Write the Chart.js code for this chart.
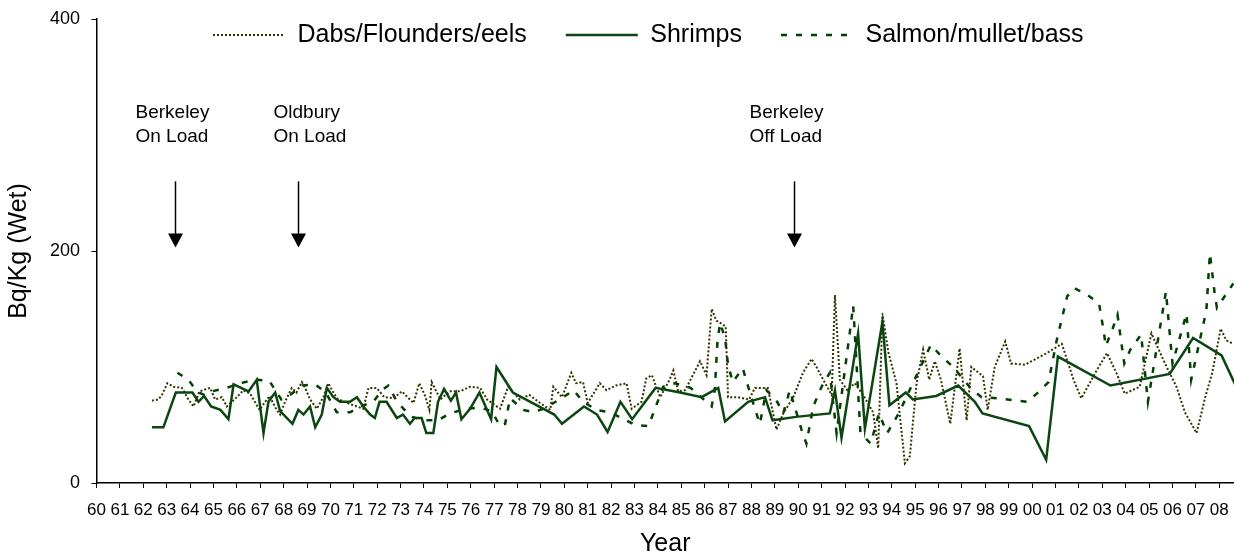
<!DOCTYPE html>
<html>
<head>
<meta charset="utf-8">
<script src="https://cdn.jsdelivr.net/npm/chart.js@4.4.1/dist/chart.umd.min.js"></script>
<style>
html,body{margin:0;padding:0;background:#fff;}
#wrap{width:1234px;height:555px;position:relative;}
</style>
</head>
<body>
<div id="wrap"><canvas id="c"></canvas></div>
<script>
// ---------- data ----------
const tickLabels = ['60','61','62','63','64','65','66','67','68','69','70','71','72','73','74','75','76','77','78','79','80','81','82','83','84','85','86','87','88','89','90','91','92','93','94','95','96','97','98','99','00','01','02','03','04','05','06','07','08'];
const firstYear = 1960;
const yTicks = [0, 200, 400];

const dabsYears = [1962.37,1962.65,1962.80,1963.03,1963.30,1963.65,1963.93,1964.15,1964.40,1964.86,1965.07,1965.36,1965.57,1966.00,1966.28,1966.57,1966.97,1967.14,1967.40,1967.70,1967.85,1968.06,1968.35,1968.55,1968.78,1968.92,1969.13,1969.42,1969.70,1969.91,1970.27,1970.70,1971.13,1971.40,1971.63,1971.98,1972.30,1972.70,1973.05,1973.55,1973.80,1974.05,1974.23,1974.33,1974.70,1975.10,1975.54,1975.97,1976.40,1976.70,1977.25,1977.60,1978.10,1978.50,1978.96,1979.40,1979.53,1979.90,1980.30,1980.50,1980.80,1981.00,1981.52,1981.80,1982.20,1982.66,1982.88,1983.30,1983.50,1983.74,1984.10,1984.50,1984.66,1984.87,1985.16,1985.60,1985.80,1986.08,1986.30,1986.50,1986.90,1987.00,1987.40,1987.90,1988.15,1988.70,1989.07,1989.36,1989.79,1990.20,1990.57,1990.78,1991.07,1991.43,1991.57,1991.78,1992.10,1992.42,1992.80,1993.20,1993.42,1993.60,1993.85,1994.20,1994.56,1994.77,1995.06,1995.34,1995.60,1995.84,1996.10,1996.50,1996.90,1997.20,1997.40,1997.90,1998.10,1998.40,1998.85,1999.10,1999.70,2000.63,2001.27,2001.77,2002.10,2002.70,2003.20,2003.60,2003.96,2004.60,2005.10,2005.68,2006.17,2006.53,2007.03,2007.40,2007.70,2008.06,2008.30,2008.60];
const dabsValues = [71,72,76,86,83,82,72,66,79,82,72,74,66,74,80,77,63,68,75,63,59,70,82,78,87,82,72,64,74,86,73,69,66,64,82,82,74,73,79,69,86,75,63,87,72,79,79,83,82,72,64,83,72,76,69,63,83,74,95,86,87,69,86,80,84,86,64,70,90,93,74,89,97,79,80,97,105,93,150,140,135,74,74,72,82,82,46,60,74,95,107,100,89,76,162,89,80,86,75,61,30,146,113,86,17,23,86,115,89,105,89,51,116,54,100,92,63,100,122,103,102,112,120,89,73,95,112,95,77,83,129,103,83,61,43,74,95,133,123,120];

const shrimpYears = [1962.37,1962.86,1963.39,1964.10,1964.36,1964.60,1964.90,1965.30,1965.64,1965.86,1966.50,1966.85,1967.14,1967.35,1967.64,1967.85,1968.38,1968.63,1968.85,1969.13,1969.35,1969.63,1969.85,1970.13,1970.41,1970.84,1971.13,1971.41,1971.70,1971.90,1972.10,1972.40,1972.84,1973.10,1973.40,1973.60,1973.90,1974.10,1974.40,1974.60,1974.86,1975.15,1975.37,1975.60,1975.97,1976.37,1976.87,1977.10,1977.80,1979.57,1979.90,1980.84,1981.40,1981.85,1982.40,1982.90,1983.90,1984.95,1985.87,1986.58,1986.87,1987.86,1988.58,1988.90,1989.90,1991.35,1991.57,1991.85,1992.56,1992.85,1993.60,1993.90,1994.60,1994.90,1995.90,1996.84,1997.55,1997.88,1999.87,2000.60,2001.10,2003.35,2005.88,2006.88,2008.10,2008.70];
const shrimpValues = [48,48,78,78,70,75,66,63,55,85,79,89,43,70,78,62,51,63,59,66,48,59,82,74,70,70,74,66,59,56,70,70,56,59,51,56,56,43,43,70,81,71,78,55,64,78,55,100,78,59,51,66,59,44,70,55,82,78,74,82,53,70,74,54,57,60,80,39,129,47,139,67,78,72,75,84,70,60,49,20,109,84,94,125,110,84];

const salmonYears = [1963.46,1963.93,1964.29,1964.60,1964.93,1965.57,1966.14,1966.78,1967.39,1967.90,1968.28,1968.80,1969.35,1969.80,1970.27,1970.84,1971.30,1971.84,1972.20,1972.48,1972.77,1973.12,1973.48,1974.05,1974.60,1975.10,1975.80,1976.40,1976.90,1977.25,1977.47,1977.68,1978.25,1978.68,1979.10,1979.80,1980.40,1980.80,1981.38,1981.95,1982.45,1983.02,1983.60,1983.80,1984.23,1984.73,1985.40,1986.30,1986.43,1986.55,1986.66,1986.87,1987.00,1987.20,1987.63,1987.77,1988.15,1988.36,1988.64,1989.10,1989.36,1989.64,1990.14,1990.35,1990.64,1991.00,1991.35,1991.64,1992.20,1992.35,1992.66,1993.10,1993.45,1993.80,1994.30,1994.90,1995.67,1996.13,1996.63,1997.40,1997.84,1998.50,1999.77,2000.20,2000.70,2001.05,2001.50,2001.80,2002.37,2002.86,2003.05,2003.15,2003.44,2003.65,2003.80,2003.94,2004.20,2004.66,2004.95,2005.45,2005.72,2006.00,2006.60,2006.80,2007.45,2007.60,2007.80,2007.90,2008.60];
const salmonValues = [95,89,79,76,79,82,86,89,88,72,76,84,85,78,61,61,66,70,80,84,73,64,57,54,54,60,64,65,62,49,51,73,63,61,64,72,80,70,63,61,56,50,49,60,83,86,82,66,80,123,138,125,102,87,99,89,64,51,80,70,60,80,46,34,66,83,95,43,129,153,43,34,60,43,60,86,119,109,100,81,74,73,70,77,87,123,161,168,162,155,132,118,133,145,123,103,115,128,70,132,165,103,146,89,149,198,164,151,172];

const seriesNames = ['Dabs/Flounders/eels', 'Shrimps', 'Salmon/mullet/bass'];

const notes = [
  {lines: ['Berkeley', 'On Load'], year: 1963.37, dx: -40},
  {lines: ['Oldbury', 'On Load'], year: 1968.62, dx: -25},
  {lines: ['Berkeley', 'Off Load'], year: 1989.82, dx: -45}
];
const arrowTop = 260, arrowTip = 203;

// ---------- helpers ----------
const FONT = "'Liberation Sans', Arial, Helvetica, sans-serif";
Chart.defaults.font.family = FONT;
Chart.defaults.color = '#000';
function pts(xs, ys) { return xs.map((x, i) => ({x: x, y: ys[i]})); }

const notesPlugin = {
  id: 'notes',
  afterDatasetsDraw(chart) {
    const {ctx} = chart;
    const x = chart.scales.x, y = chart.scales.y;
    ctx.save();
    ctx.font = '19px ' + FONT;
    ctx.fillStyle = '#000';
    ctx.strokeStyle = '#000';
    ctx.textAlign = 'left';
    ctx.textBaseline = 'alphabetic';
    notes.forEach(n => {
      const ax = Math.round(x.getPixelForValue(n.year)) + 0.5;
      n.lines.forEach((t, i) => ctx.fillText(t, ax + n.dx, 118 + i * 24));
      const yt = y.getPixelForValue(arrowTop), yp = y.getPixelForValue(arrowTip);
      ctx.lineWidth = 1.5;
      ctx.beginPath(); ctx.moveTo(ax, yt); ctx.lineTo(ax, yp - 12); ctx.stroke();
      ctx.beginPath(); ctx.moveTo(ax - 7.5, yp - 14); ctx.lineTo(ax + 7.5, yp - 14); ctx.lineTo(ax, yp); ctx.closePath(); ctx.fill();
    });
    ctx.restore();
  }
};

const LEG_PAD = 39;
const legendPlace = {
  id: 'legendPlace',
  beforeLayout(chart) {
    const lg = chart.legend;
    if (lg && !lg._patched) {
      const f = lg.fit;
      lg.fit = function() { f.call(this); this.height = 0; };
      lg._patched = true;
    }
  },
  afterLayout(chart) {
    const lg = chart.legend;
    if (!lg) return;
    lg.left = 213 - LEG_PAD;
    lg.right = 1234;
    lg.top = 35 - 12.5 - LEG_PAD;
    lg.bottom = 80;
    lg.width = lg.right - lg.left;
    lg.height = lg.bottom - lg.top;
  }
};

new Chart(document.getElementById('c'), {
  type: 'line',
  data: {
    datasets: [
      {label: seriesNames[0], data: pts(dabsYears, dabsValues), borderColor: '#333300', backgroundColor: '#333300', borderWidth: 2, borderDash: [2, 2], order: 1},
      {label: seriesNames[1], data: pts(shrimpYears, shrimpValues), borderColor: '#0b450f', backgroundColor: '#0b450f', borderWidth: 2.5, order: 0},
      {label: seriesNames[2], data: pts(salmonYears, salmonValues), borderColor: '#004000', backgroundColor: '#004000', borderWidth: 2.5, borderDash: [6, 9], order: 2}
    ]
  },
  options: {
    responsive: true,
    maintainAspectRatio: false,
    animation: false,
    devicePixelRatio: 1,
    parsing: false,
    elements: {point: {radius: 0, hoverRadius: 0}, line: {tension: 0, fill: false}},
    layout: {padding: {top: 19, left: 0, right: 0, bottom: 0}},
    plugins: {
      tooltip: {enabled: false},
      legend: {
        display: true,
        position: 'top',
        align: 'start',
        labels: {
          usePointStyle: true,
          pointStyle: 'line',
          pointStyleWidth: 72,
          padding: LEG_PAD,
          color: '#000',
          font: {size: 25, family: FONT},
          sort: (a, b) => a.datasetIndex - b.datasetIndex,
          generateLabels: (chart) => {
            const items = Chart.defaults.plugins.legend.labels.generateLabels(chart);
            return items.map(it => {
              const ds = chart.data.datasets[it.datasetIndex];
              it.lineDash = ds.borderDash || [];
              it.lineWidth = ds.borderWidth;
              it.strokeStyle = ds.borderColor;
              it.fillStyle = ds.borderColor;
              it.pointStyle = 'line';
              return it;
            });
          }
        }
      }
    },
    scales: {
      x: {
        type: 'linear',
        min: firstYear,
        max: 2008.63,
        afterBuildTicks: s => { s.ticks = tickLabels.map((t, i) => ({value: firstYear + i})); },
        ticks: {
          autoSkip: false, maxRotation: 0, minRotation: 0,
          font: {size: 17}, color: '#000', padding: 12,
          callback: (v, i) => tickLabels[i]
        },
        grid: {display: true, drawOnChartArea: false, drawTicks: true, tickLength: 5, color: '#000', lineWidth: 1},
        border: {display: true, color: '#000', width: 1.5},
        title: {display: true, text: 'Year', color: '#000', font: {size: 25, lineHeight: 1}, padding: {top: 0, bottom: -2}},
        afterFit: s => { s.height = 72; s.paddingLeft = 0; s.paddingRight = 0; }
      },
      y: {
        type: 'linear',
        min: 0,
        max: 400,
        afterBuildTicks: s => { s.ticks = yTicks.map(v => ({value: v})); },
        ticks: {font: {size: 18}, color: '#000', padding: 11.5},
        grid: {display: true, drawOnChartArea: false, drawTicks: true, tickLength: 5, color: '#000', lineWidth: 1},
        border: {display: true, color: '#000', width: 1.5},
        title: {display: true, text: 'Bq/Kg (Wet)', color: '#000', font: {size: 25, lineHeight: 1}, padding: {top: 6.5, bottom: 0}},
        afterFit: s => { s.width = 96.5; s.paddingTop = 0; s.paddingBottom = 0; }
      }
    }
  },
  plugins: [notesPlugin, legendPlace]
});
</script>
</body>
</html>
